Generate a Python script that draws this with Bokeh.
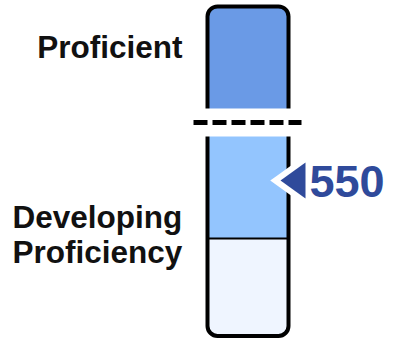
from bokeh.plotting import figure
from bokeh.models import Range1d
from bokeh.core.properties import value
from bokeh.embed import file_html
from bokeh.resources import INLINE

# ---- data ----
band_labels = ["Proficient", "Developing Proficiency", ""]
band_low = [600, 500, 416]
band_high = [700, 600, 500]
band_colors = ["#6A9AE6", "#93C5FE", "#EFF5FF"]
cut_score = 600
student_score = 550
score_text = "550"

# ---- layout ----
W, H = 384, 338
TOP_PX = 6                     # px from figure top to outline centre
K = 1.16                       # px per score unit
smin, smax = min(band_low), max(band_high)
y_end = smax + TOP_PX / K
y_start = y_end - H / K

def sy(px):
    """figure pixel (from top) -> score units"""
    return y_end - px / K

p = figure(width=W, height=H, output_backend="svg", toolbar_location=None,
           x_range=Range1d(0, W), y_range=Range1d(y_start, y_end),
           min_border=0)
p.axis.visible = False
p.grid.visible = False
p.outline_line_color = None
p.background_fill_color = "white"
p.border_fill_color = "white"

BL, BR = 207, 288
R = 10
font = value("Liberation Sans")
BASE_FIX = 0.33   # em shift of bokeh alphabetic baseline

# band fills
radii = [(R, R, 0, 0), (0, 0, 0, 0), (0, 0, R, R)]
for lo, hi, c, rad in zip(band_low, band_high, band_colors, radii):
    p.quad(left=BL, right=BR, bottom=lo, top=hi, fill_color=c, line_color=None,
           border_radius=rad)

# outline
p.quad(left=BL, right=BR, bottom=smin, top=smax, fill_color=None,
       line_color="black", line_width=4, border_radius=R)

# internal separators (except cut score)
for lo in band_low:
    if lo != smin and lo != cut_score:
        p.segment(x0=BL, x1=BR, y0=lo, y1=lo, line_color="black", line_width=2)

# gap around cut score
p.rect(x=(BL + BR) / 2, y=cut_score, width=100, height=28, height_units="screen",
       fill_color="white", line_color=None)
p.segment(x0=193, x1=301, y0=cut_score, y1=cut_score, line_color="black",
          line_width=5, line_dash="14 5")

# arrow marker
half = 18 / K
xs = [280, 305, 305]
ys = [student_score, student_score + half, student_score - half]
p.patch(xs, ys, fill_color="white", line_color="white", line_width=12,
        line_join="miter")
p.patch(xs, ys, fill_color="#2F4A9B", line_color=None)

# score text
fs = 45
arrow_px = (y_end - student_score) * K
p.text(x=[309], y=[sy(arrow_px + 0.716 * fs / 2 - BASE_FIX * fs)], text=[score_text],
       text_font=font, text_font_style="bold", text_font_size=f"{fs}px",
       text_color="#2F4A9B", text_align="left", text_baseline="alphabetic")

# band labels
lfs = 31.5
p.text(x=[182], y=[sy(57 - BASE_FIX * lfs)], text=[band_labels[0]], text_font=font,
       text_font_style="bold", text_font_size=f"{lfs}px", text_color="#111111",
       text_align="right", text_baseline="alphabetic")
lines = band_labels[1].split(" ")
for line, base in zip(lines, [227, 262]):
    p.text(x=[12], y=[sy(base - BASE_FIX * lfs)], text=[line], text_font=font,
           text_font_style="bold", text_font_size=f"{lfs}px", text_color="#111111",
           text_align="left", text_baseline="alphabetic")

open("out.html", "w").write(file_html(p, INLINE))
